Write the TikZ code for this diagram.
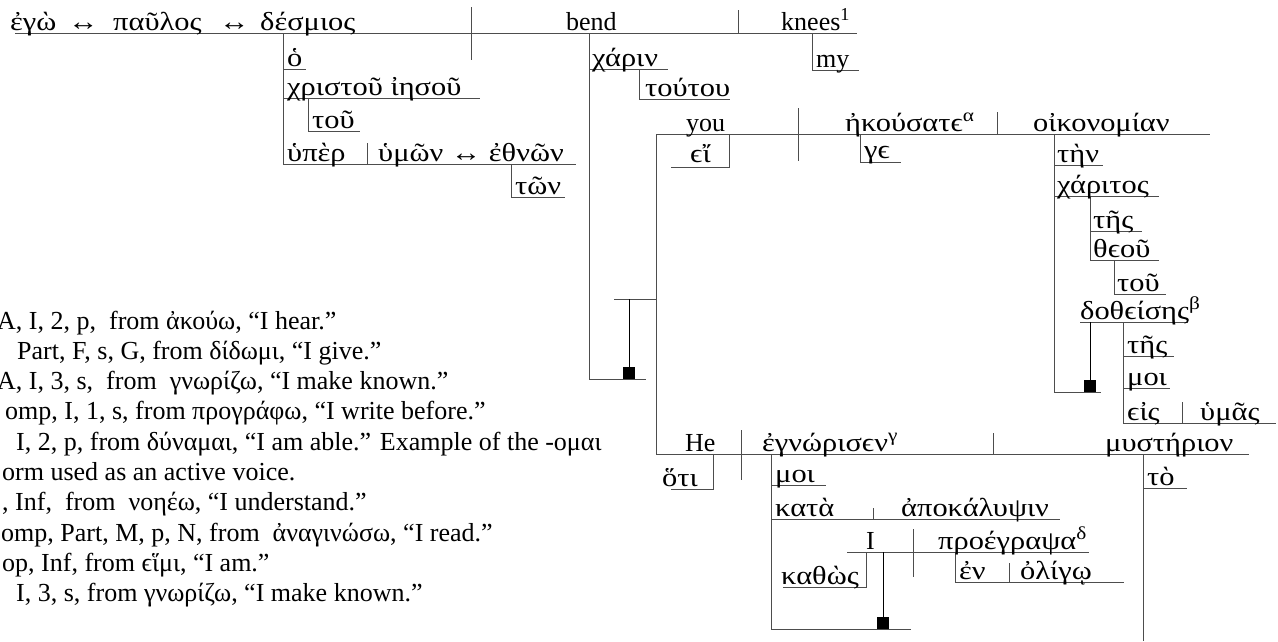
\documentclass[tikz,border=0pt]{standalone}
\usepackage{fontspec}
\setmainfont{Liberation Serif}
\newfontfamily\grk{Liberation Serif}[FakeStretch=1.17]
\usepackage{tikz}
\definecolor{rulegray}{HTML}{4D4D4D}
\definecolor{inkblack}{HTML}{000000}
\tikzset{
  every node/.append style={font=\fontsize{26}{30}\selectfont},
  word/.style={anchor=base west,inner sep=0pt},
  greek/.style={word,font=\grk\fontsize{26}{30}\selectfont},
  note/.style={word,font=\fontsize{26}{30}\selectfont},
  rule/.style={rulegray,line width=1pt},
  stem/.style={inkblack,line width=1pt},
  knob/.style={fill=inkblack,minimum size=12pt,inner sep=0pt}
}

\begin{document}
\begin{tikzpicture}[x=1pt,y=-1pt]
  \useasboundingbox (0,0) rectangle (1278,641);

  % main clause: ego ... bend knees
  \draw[rule] (15,33) -- (857,33);
  \draw[rule] (471,7) -- (471,60);
  \draw[rule] (738,10) -- (738,33);
  \node[greek] (ego) at (10,30) {ἐγὼ};
  \node[greek] (arrA) at (68,30) {↔};
  \node[greek] (paulos) at (113,30) {παῦλος};
  \node[greek] (arrB) at (219,30) {↔};
  \node[greek] (desmios) at (260,30) {δέσμιος};
  \node[word] (bend) at (566,30) {bend};
  \node[word] (knees) at (781,30) {knees\textsuperscript{1}};

  % modifiers of desmios
  \draw[rule] (283,33) -- (283,164);
  \draw[rule] (283,69) -- (306,69);
  \draw[rule] (283,98) -- (480,98);
  \draw[rule] (308,98) |- (360,131);
  \draw[rule] (283,164) -- (576,164);
  \draw[rule] (367,143) -- (367,164);
  \draw[rule] (511,164) |- (565,197);
  \node[greek] (ho) at (287,66) {ὁ};
  \node[greek] (christou) at (287,95) {χριστοῦ\ ἰησοῦ};
  \node[greek] (touA) at (312,128) {τοῦ};
  \node[greek] (hyper) at (287,161) {ὑπὲρ};
  \node[greek] (hymon) at (378,161) {ὑμῶν ↔ ἐθνῶν};
  \node[greek] (ton) at (515,194) {τῶν};

  % modifiers of bend and knees
  \draw[rule] (589,33) -- (589,379) -- (646,379);
  \draw[rule] (589,69) -- (668,69);
  \draw[rule] (639,69) |- (730,99);
  \draw[rule] (812,33) |- (859,70);
  \node[greek] (charin) at (592,66) {χάριν};
  \node[greek] (toutou) at (645,96) {τούτου};
  \node[word] (my) at (816,67) {my};

  % stand joining the clauses
  \draw[rule] (614,299) -- (656,299);
  \draw[stem] (629,299) -- (629,373);
  \node[knob] (knobA) at (629,373) {};

  % clause: you heard the stewardship
  \draw[rule] (656,134) -- (1210,134);
  \draw[rule] (656,134) -- (656,454);
  \draw[rule] (798,108) -- (798,161);
  \draw[rule] (997,112) -- (997,134);
  \draw[rule] (671,167) -| (729,134);
  \draw[rule] (860,134) |- (901,162);
  \node[word] (you) at (686,131) {you};
  \node[greek] (ei) at (690,162) {ϵἴ};
  \node[greek] (ekousate) at (845,131) {ἠκούσατϵ\textsuperscript{α}};
  \node[greek] (ge) at (864,158) {γϵ};
  \node[greek] (oikonomian) at (1033,131) {οἰκονομίαν};

  % modifiers of oikonomian
  \draw[rule] (1054,134) -- (1054,392) -- (1101,392);
  \draw[rule] (1054,165) -- (1103,165);
  \draw[rule] (1054,196) -- (1159,196);
  \draw[rule] (1090,196) |- (1142,231);
  \draw[rule] (1090,231) |- (1159,260);
  \draw[rule] (1114,260) |- (1166,294);
  \draw[rule] (1080,322) -- (1188,322);
  \draw[stem] (1090,322) -- (1090,386);
  \node[knob] (knobB) at (1090,386) {};
  \draw[rule] (1123,322) -- (1123,423) -- (1276,423);
  \draw[rule] (1123,356) -- (1174,356);
  \draw[rule] (1123,388) -- (1170,388);
  \draw[rule] (1182,402) -- (1182,423);
  \node[greek] (ten) at (1057,162) {τὴν};
  \node[greek] (charitos) at (1057,193) {χάριτος};
  \node[greek] (tesA) at (1093,228) {τῆς};
  \node[greek] (theou) at (1093,257) {θϵοῦ};
  \node[greek] (touB) at (1117,291) {τοῦ};
  \node[greek] (dotheises) at (1080,319) {δοθϵίσης\textsuperscript{β}};
  \node[greek] (tesB) at (1127,353) {τῆς};
  \node[greek] (moiA) at (1127,385) {μοι};
  \node[greek] (eis) at (1127,420) {ϵἰς};
  \node[greek] (hymas) at (1200,420) {ὑμᾶς};

  % clause: he made known the mystery
  \draw[rule] (656,454) -- (1249,454);
  \draw[rule] (741,430) -- (741,480);
  \draw[rule] (993,433) -- (993,454);
  \draw[rule] (671,489) -| (713,454);
  \draw[rule] (1143,454) -- (1143,641);
  \draw[rule] (1143,488) -- (1187,488);
  \node[word] (he) at (685,451) {He};
  \node[greek] (hoti) at (662,486) {ὅτι};
  \node[greek] (egnorisen) at (762,451) {ἐγνώρισϵν\textsuperscript{γ}};
  \node[greek] (mysterion) at (1105,451) {μυστήριον};
  \node[greek] (to) at (1147,485) {τὸ};

  % modifiers of egnorisen
  \draw[rule] (771,454) -- (771,629) -- (911,629);
  \draw[rule] (771,485) -- (826,485);
  \draw[rule] (771,519) -- (1060,519);
  \draw[rule] (873,508) -- (873,519);
  \draw[rule] (847,552) -- (1089,552);
  \draw[rule] (913,529) -- (913,577);
  \draw[rule] (783,587) -| (866,552);
  \draw[rule] (955,552) |- (1124,582);
  \draw[rule] (1009,563) -- (1009,582);
  \draw[stem] (883,552) -- (883,623);
  \node[knob] (knobC) at (883,623) {};
  \node[greek] (moiB) at (775,482) {μοι};
  \node[greek] (kata) at (775,516) {κατὰ};
  \node[greek] (apokalypsin) at (901,516) {ἀποκάλυψιν};
  \node[word] (I) at (866,549) {I};
  \node[greek] (proegrapsa) at (938,549) {προέγραψα\textsuperscript{δ}};
  \node[greek] (kathos) at (781,584) {καθὼς};
  \node[greek] (en) at (959,579) {ἐν};
  \node[greek] (oligo) at (1020,579) {ὀλίγῳ};

  % parsing notes
  \foreach \dx/\txt [count=\i from 0] in {
      -3/{A, I, 2, p,\ \ from\ ἀκούω, “I hear.”},
      17/{Part, F, s, G, from δίδωμι, “I give.”},
      -3/{A, I, 3, s,\ \ from\ \ γνωρίζω, “I make known.”},
      5/{omp, I, 1, s, from προγράφω, “I write before.”},
      16/{I, 2, p, from δύναμαι, “I am able.” Example of the -ομαι},
      2/{orm used as an active voice.},
      2/{, Inf,\ \ from\ \ νοηέω, “I understand.”},
      1/{omp, Part, M, p, N, from\ \ ἀναγινώσω, “I read.”},
      2/{op, Inf, from ϵἵμι, “I am.”},
      16/{I, 3, s, from γνωρίζω, “I make known.”}}
    \node[note] (note\i) at (\dx,329+30.3*\i) {\txt};
\end{tikzpicture}
\end{document}
